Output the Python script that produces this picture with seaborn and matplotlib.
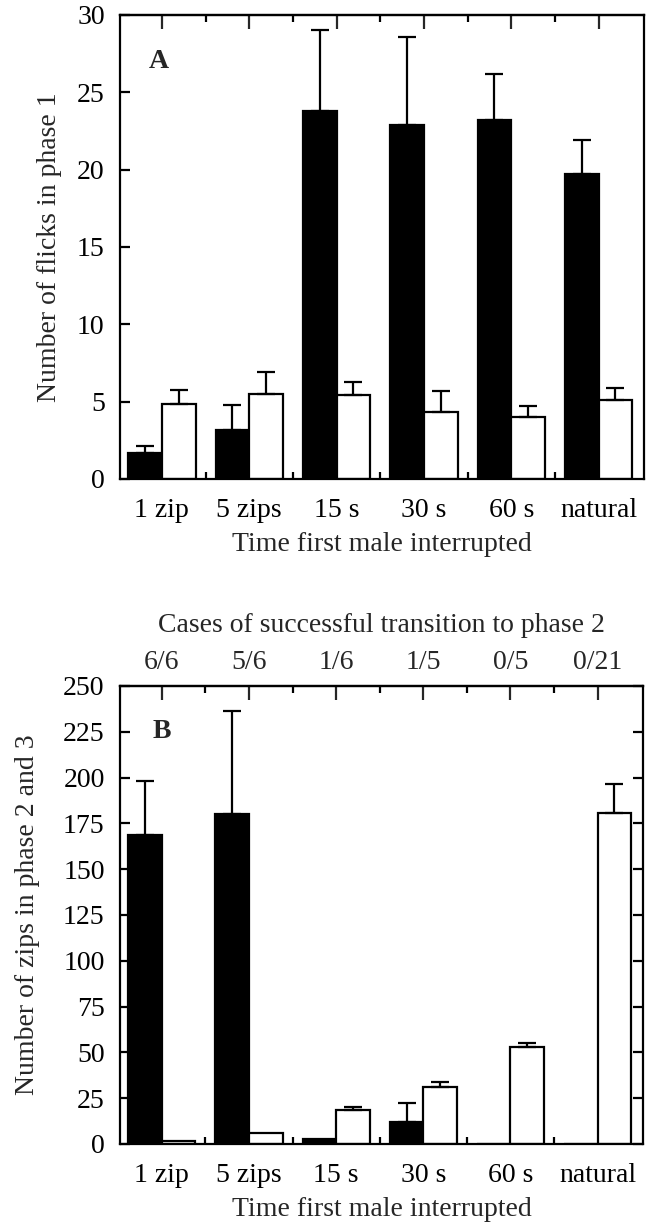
import numpy as np
import pandas as pd
import matplotlib
matplotlib.use("Agg")
import matplotlib.pyplot as plt
import seaborn as sns
from matplotlib.ticker import FixedLocator

# ---------------- data ----------------
groups = ["1 zip", "5 zips", "15 s", "30 s", "60 s", "natural"]
series = ["filled", "open"]

flicks_filled = [1.7, 3.2, 23.8, 22.9, 23.2, 19.7]
flicks_filled_err = [0.45, 1.6, 5.25, 5.65, 3.0, 2.2]
flicks_open = [4.85, 5.5, 5.4, 4.3, 4.0, 5.1]
flicks_open_err = [0.9, 1.4, 0.9, 1.4, 0.75, 0.8]

zips_filled = [168.5, 180.0, 2.5, 12.0, 0.0, 0.0]
zips_filled_err = [29.5, 56.5, 0.0, 10.5, 0.0, 0.0]
zips_open = [1.5, 6.0, 18.5, 31.0, 52.8, 180.5]
zips_open_err = [0.0, 0.0, 1.5, 2.6, 2.5, 16.0]

cases = ["6/6", "5/6", "1/6", "1/5", "0/5", "0/21"]

flick_ticks = [0, 5, 10, 15, 20, 25, 30]
zip_ticks = [0, 25, 50, 75, 100, 125, 150, 175, 200, 225, 250]

# ---------------- style ----------------
sns.set_style("white")
plt.rcParams['font.family'] = ['Liberation Serif', 'DejaVu Serif']
FS = 20
LW = 1.6

fig = plt.figure(figsize=(6.5, 12.26), dpi=100)
axA = fig.add_axes([0.1846, 0.6093, 0.8062, 0.3785])
axB = fig.add_axes([0.1846, 0.0669, 0.8046, 0.3736])


def panel(ax, filled, filled_err, opn, opn_err, ylim, yticks, right_ticks,
          letter, letter_pos, ylabel, ylabel_x, top_labels=None):
    df = pd.DataFrame({
        "group": groups * 2,
        "series": [series[0]] * len(groups) + [series[1]] * len(groups),
        "value": list(filled) + list(opn),
    })
    sns.barplot(data=df, x="group", y="value", hue="series", order=groups,
                hue_order=series, palette={"filled": "black", "open": "white"},
                edgecolor="black", linewidth=LW, width=0.77, errorbar=None,
                legend=False, ax=ax, zorder=2)
    for cont, errs in zip(ax.containers, [filled_err, opn_err]):
        for rect, e in zip(cont, errs):
            if e > 0:
                xc = rect.get_x() + rect.get_width() / 2
                h = rect.get_height()
                ax.errorbar([xc], [h], yerr=[[0], [e]], fmt='none',
                            ecolor='black', elinewidth=LW, capsize=6.5,
                            capthick=LW, zorder=3)
    ax.set_xlim(-0.48, 5.52)
    ax.set_ylim(*ylim)
    ax.set_yticks(yticks)
    ax.set_yticklabels([str(t) for t in yticks])
    ax.xaxis.set_major_locator(FixedLocator(list(range(len(groups)))))
    ax.set_xticklabels(groups)
    ax.xaxis.set_minor_locator(FixedLocator([i + 0.5 for i in range(len(groups) - 1)]))
    ax.tick_params(axis='x', which='major', bottom=True, top=False, length=0,
                   pad=14, labelsize=FS, colors='black')
    ax.tick_params(axis='x', which='minor', bottom=True, top=True,
                   direction='in', length=5, width=LW, color='black')
    ax.tick_params(axis='y', which='major', direction='in', length=7,
                   width=LW, left=True, right=right_ticks, labelsize=FS,
                   pad=11, colors='black')
    sec = ax.secondary_xaxis('top')
    sec.set_xticks(list(range(len(groups))))
    if top_labels is None:
        sec.set_xticklabels([])
    else:
        sec.set_xticklabels(top_labels)
        sec.set_xlabel("Cases of successful transition to phase 2",
                       fontsize=FS, labelpad=13)
    sec.tick_params(direction='in', length=10, width=LW, labelsize=FS, pad=8)
    for s in sec.spines.values():
        s.set_linewidth(LW)
        s.set_color('black')
    for s in ax.spines.values():
        s.set_linewidth(LW)
        s.set_color('black')
    ax.grid(False)
    ax.set_xlabel("Time first male interrupted", fontsize=FS)
    ax.xaxis.set_label_coords(0.5, -0.115)
    ax.set_ylabel(ylabel, fontsize=FS)
    ax.yaxis.set_label_coords(ylabel_x, 0.5)
    ax.text(letter_pos[0], letter_pos[1], letter, transform=ax.transAxes,
            fontsize=FS, fontweight='bold', ha='center', va='center')


panel(axA, flicks_filled, flicks_filled_err, flicks_open, flicks_open_err,
      (0, 30), flick_ticks, False, "A", (0.074, 0.900),
      "Number of flicks in phase 1", -0.111)
panel(axB, zips_filled, zips_filled_err, zips_open, zips_open_err,
      (0, 250), zip_ticks, True, "B", (0.080, 0.900),
      "Number of zips in phase 2 and 3", -0.153, top_labels=cases)

fig.savefig("out.png", dpi=100)
